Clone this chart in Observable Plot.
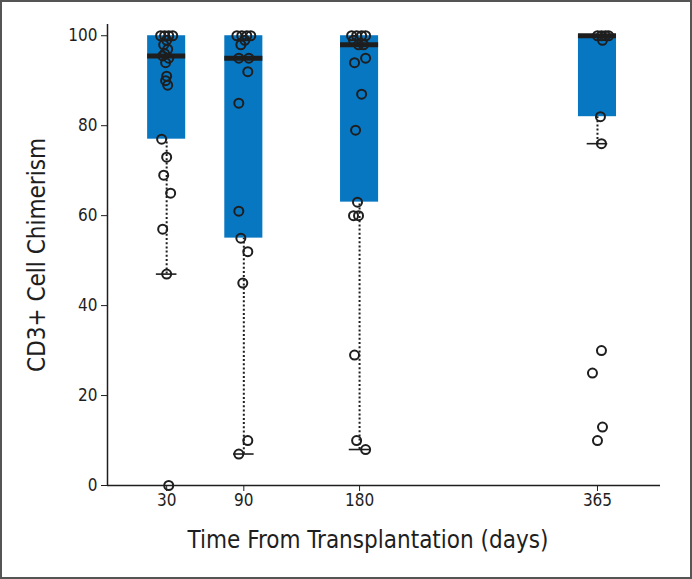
<!DOCTYPE html>
<html>
<head>
<meta charset="utf-8">
<script src="https://cdn.jsdelivr.net/npm/d3@7"></script>
<script src="https://cdn.jsdelivr.net/npm/@observablehq/plot@0.6"></script>
<style>
  html, body { margin: 0; padding: 0; background: #fff; }
  #wrap { position: relative; width: 692px; height: 579px; overflow: hidden; }
  #wrap svg { display: block; }
  #frame { position: absolute; left: 0; top: 0; width: 692px; height: 579px; box-sizing: border-box; border: 2px solid #555; pointer-events: none; }
</style>
</head>
<body>
<div id="wrap"><div id="frame"></div></div>
<script>
// Box summaries per time point (days after transplantation)
const days = [30, 90, 180, 365];
const q1 = [77, 55, 63, 82];
const median = [95.5, 95, 98, 100];
const q3 = [100, 100, 100, 100];
const whiskerLow = [47, 7, 8, 76];

// Individual patients: x read in days (jittered around the time point), chimerism %
const pointDay = [
  // 30 days
  25.3, 28.4, 31.6, 34.7, 30.0, 27.7, 30.8, 28.4, 26.9, 31.6, 29.2, 30.0, 29.2, 30.8, 26.1, 30.0, 27.7, 33.1, 26.9, 30.0, 31.6,
  // 90 days
  84.6, 88.4, 92.3, 95.4, 90.8, 87.7, 86.1, 93.9, 93.1, 86.1, 86.1, 87.7, 93.1, 89.2, 93.1, 86.1,
  // 180 days
  173.8, 177.7, 181.6, 184.7, 175.3, 179.2, 183.1, 184.7, 176.1, 181.6, 176.9, 178.4, 175.3, 179.2, 176.1, 177.7, 184.7,
  // 365 days
  365.0, 368.1, 371.2, 373.6, 368.9, 367.3, 368.1, 368.1, 361.1, 368.9, 365.0
];
const pointValue = [
  100, 100, 100, 100, 99, 98, 97, 96, 95.5, 95, 94, 91, 90, 89, 77, 73, 69, 65, 57, 47, 0,
  100, 100, 100, 100, 99, 98, 95, 95, 92, 85, 61, 55, 52, 45, 10, 7,
  100, 100, 100, 100, 99, 98, 98, 95, 94, 87, 79, 63, 60, 60, 29, 10, 8,
  100, 100, 100, 100, 99, 82, 76, 30, 25, 13, 10
];

const yTicks = [0, 20, 40, 60, 80, 100];
const xTitle = "Time From Transplantation (days)";
const yTitle = "CD3+ Cell Chimerism";

const boxes = days.map((d, i) => ({day: d, q1: q1[i], median: median[i], q3: q3[i], low: whiskerLow[i]}));
const points = pointDay.map((d, i) => ({day: d, value: pointValue[i]}));

const halfBox = 14.8;
const halfCap = 8;
const font = "'Liberation Sans Narrow', 'DejaVu Sans Condensed', 'Roboto', sans-serif";
const ink = "#1e1e1e";

const chart = Plot.plot({
  width: 692,
  height: 579,
  marginLeft: 107,
  marginRight: 32,
  marginTop: 24,
  marginBottom: 94,
  style: {fontFamily: font, color: ink, background: "#fff"},
  x: {domain: [-16, 414]},
  y: {domain: [0, 102.5]},
  marks: [
    Plot.rect(boxes, {x1: d => d.day - halfBox, x2: d => d.day + halfBox, y1: "q1", y2: "q3", fill: "#0877c2"}),
    Plot.ruleX(boxes, {x: "day", y1: "low", y2: "q1", stroke: ink, strokeWidth: 2, strokeDasharray: "2,2.2"}),
    Plot.ruleY(boxes, {y: "low", x1: d => d.day - halfCap, x2: d => d.day + halfCap, stroke: ink, strokeWidth: 1.6}),
    Plot.ruleY(boxes, {y: "median", x1: d => d.day - halfBox, x2: d => d.day + halfBox, stroke: ink, strokeWidth: 5}),
    Plot.ruleX([-16], {stroke: ink, strokeWidth: 1.5}),
    Plot.ruleY([0], {stroke: ink, strokeWidth: 1.5}),
    Plot.axisY({ticks: yTicks, tickSize: 6, tickPadding: 4, fontSize: 17, label: null, stroke: ink}),
    Plot.axisX({ticks: days, tickSize: 6, tickPadding: 2, fontSize: 17, label: null, tickFormat: d => String(d), stroke: ink}),
    Plot.dot(points, {x: "day", y: "value", r: 4.5, stroke: ink, strokeWidth: 2, fill: "none"}),
    Plot.text([xTitle], {frameAnchor: "bottom", textAnchor: "middle", dx: -16, dy: 62, fontSize: 24, fill: ink}),
    Plot.text([yTitle], {frameAnchor: "left", textAnchor: "middle", dx: -70, rotate: -90, fontSize: 24, fill: ink})
  ]
});
document.getElementById("wrap").prepend(chart);
</script>
</body>
</html>
